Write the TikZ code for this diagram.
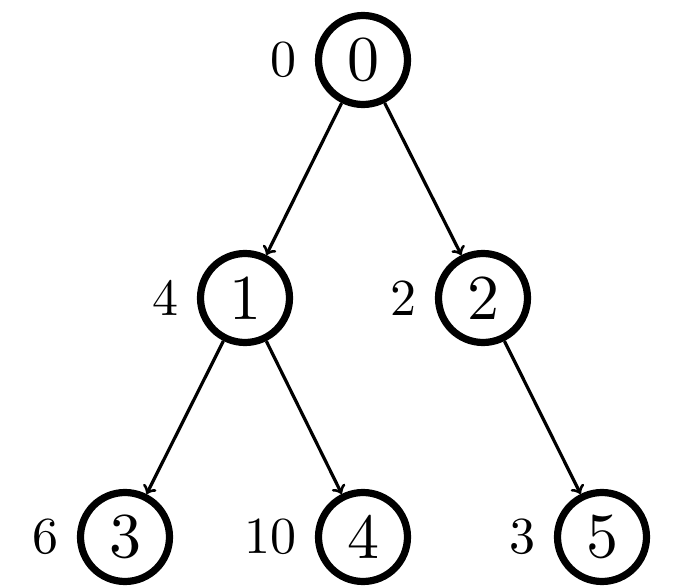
\documentclass[tikz,border=0pt]{standalone}
\usepackage{fontspec}
\setmainfont{lmroman10-regular.otf}
\usetikzlibrary{positioning}
\begin{document}
\begin{tikzpicture}[x=0.5pt,y=-0.5pt,
  vert/.style={circle,draw,line width=3.6pt,inner sep=0pt,minimum size=44.5pt,font=\fontsize{32}{36}\selectfont},
  lab/.style={inner sep=0pt,font=\fontsize{26}{30}\selectfont},
  edge/.style={->,line width=1.6pt}]
\useasboundingbox (0,0) rectangle (680,588);
\node[vert] (n0) at (363,60) {0};
\node[vert] (n1) at (245,298) {1};
\node[vert] (n2) at (483,298) {2};
\node[vert] (n3) at (125,537) {3};
\node[vert] (n4) at (363,537) {4};
\node[vert] (n5) at (602,537) {5};
\node[lab,left=9pt of n0] (l0) {0};
\node[lab,left=9pt of n1] (l1) {4};
\node[lab,left=9pt of n2] (l2) {2};
\node[lab,left=9pt of n3] (l3) {6};
\node[lab,left=9pt of n4] (l4) {10};
\node[lab,left=9pt of n5] (l5) {3};
\draw[edge] (n0) -- (n1);
\draw[edge] (n0) -- (n2);
\draw[edge] (n1) -- (n3);
\draw[edge] (n1) -- (n4);
\draw[edge] (n2) -- (n5);
\end{tikzpicture}
\end{document}
